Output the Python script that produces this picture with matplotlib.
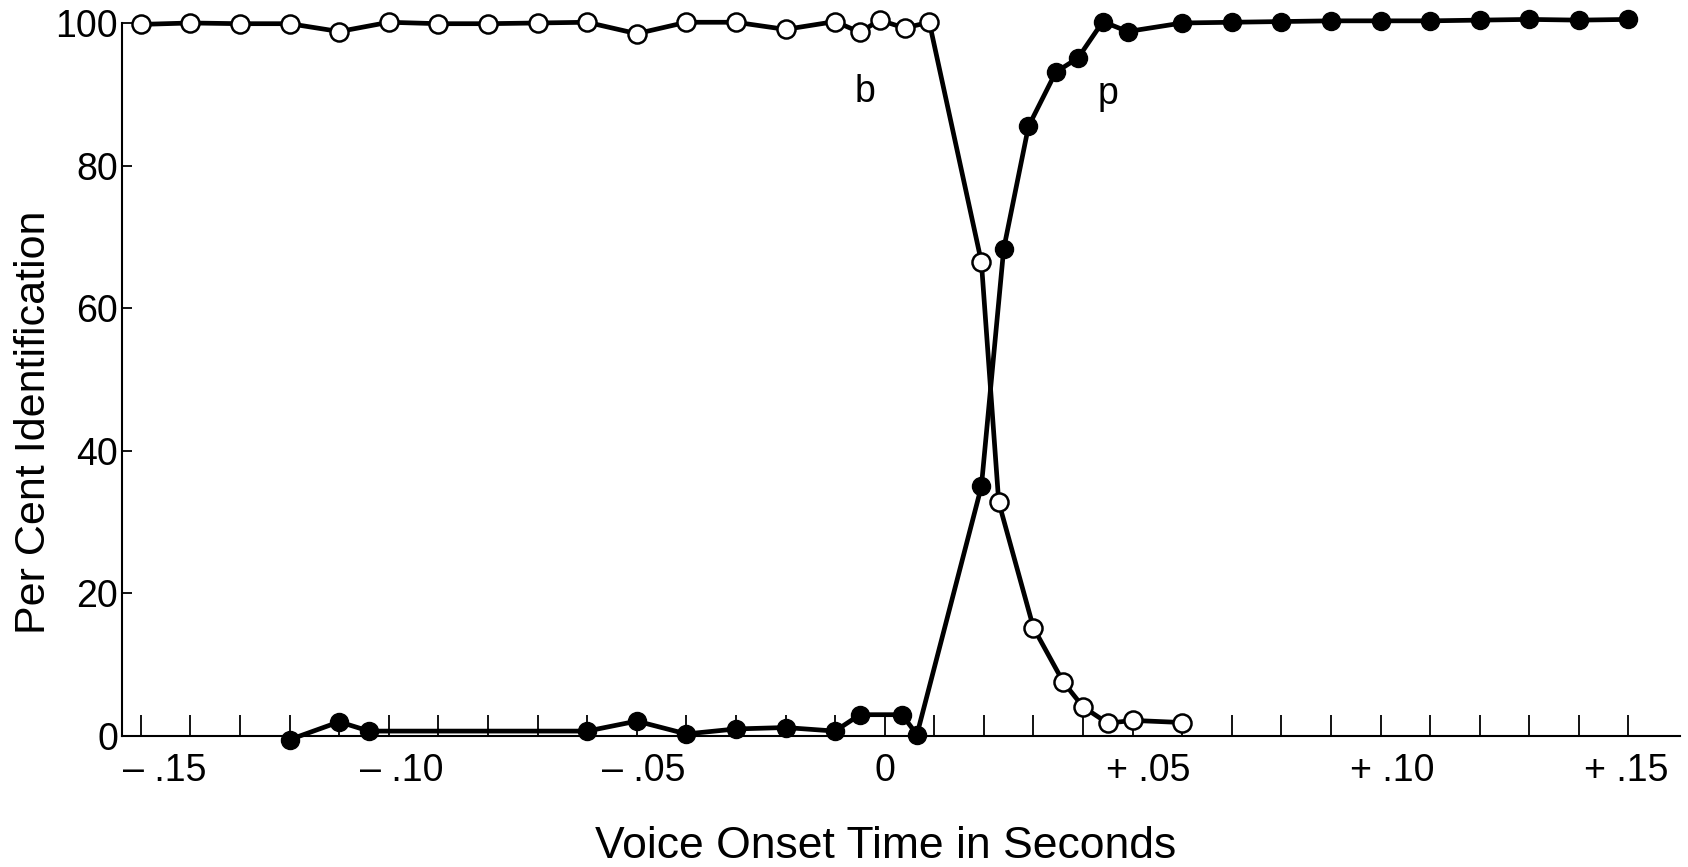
import matplotlib
matplotlib.use("Agg")
import matplotlib.pyplot as plt
from matplotlib.ticker import FixedLocator
from matplotlib.transforms import ScaledTranslation

# voice onset time (s) and per cent identification
b_vot = [-0.15, -0.14, -0.13, -0.12, -0.11, -0.10, -0.09, -0.08, -0.07, -0.06,
         -0.05, -0.04, -0.03, -0.02, -0.01, -0.005, -0.001, 0.004, 0.009,
         0.0195, 0.023, 0.030, 0.036, 0.040, 0.045, 0.050, 0.060]
b_pct = [99.8, 100, 99.9, 99.9, 98.8, 100.1, 99.9, 99.9, 100, 100.1,
         98.5, 100.1, 100.1, 99.1, 100.2, 98.7, 100.4, 99.3, 100.1,
         66.5, 32.8, 15.2, 7.6, 4.1, 1.8, 2.2, 1.9]

p_vot = [-0.12, -0.11, -0.104, -0.06, -0.05, -0.04, -0.03, -0.02, -0.01,
         -0.005, 0.0035, 0.0065, 0.0195, 0.024, 0.029, 0.0345, 0.039, 0.044,
         0.049, 0.06, 0.07, 0.08, 0.09, 0.10, 0.11, 0.12, 0.13, 0.14, 0.15]
p_pct = [-0.5, 2.0, 0.7, 0.7, 2.1, 0.3, 1.0, 1.2, 0.7,
         3.0, 3.0, 0.2, 35.0, 68.3, 85.5, 93.1, 95.1, 100.2,
         98.8, 100.0, 100.1, 100.2, 100.3, 100.3, 100.3, 100.4, 100.5, 100.4, 100.5]

x_major = [-0.15, -0.10, -0.05, 0, 0.05, 0.10, 0.15]
x_labels = ["\u2013 .15", "\u2013 .10", "\u2013 .05", "0", "+ .05", "+ .10", "+ .15"]
x_minor = [i / 100 for i in range(-15, 16)]
y_ticks = [0, 20, 40, 60, 80, 100]

# the hand-set labels sit a little right of their ticks (pixels)
label_shift = [24, 13, 7, 0, 16, 12, -2]

plt.rcParams["font.family"] = ["Liberation Sans", "DejaVu Sans"]

fig = plt.figure(figsize=(16.88, 8.67), dpi=100)
ax = fig.add_axes([0.0723, 0.151, 0.9227, 0.8225])

ax.plot(p_vot, p_pct, color="black", lw=3.4, marker="o", ms=13,
        mfc="black", mec="black", clip_on=False, zorder=3)
ax.plot(b_vot, b_pct, color="black", lw=3.4, marker="o", ms=13,
        mfc="white", mec="black", mew=1.8, clip_on=False, zorder=4)

ax.text(-0.004, 90.3, "b", fontsize=27, ha="center", va="center")
ax.text(0.045, 90, "p", fontsize=27, ha="center", va="center")

ax.set_xlim(-0.1538, 0.1603)
ax.set_ylim(0, 100)

ax.spines["top"].set_visible(False)
ax.spines["right"].set_visible(False)
ax.spines["left"].set_linewidth(1.5)
ax.spines["bottom"].set_linewidth(1.5)

ax.xaxis.set_major_locator(FixedLocator(x_major))
ax.xaxis.set_minor_locator(FixedLocator(x_minor))
ax.set_xticklabels(x_labels)
ax.set_yticks(y_ticks)
ax.set_yticklabels([str(v) for v in y_ticks])

ax.tick_params(axis="x", which="both", direction="in", length=15, width=1.3,
               pad=12, labelsize=27)
ax.tick_params(axis="y", direction="in", length=7, width=1.3, pad=3,
               labelsize=27)

for lab, dx in zip(ax.get_xticklabels(), label_shift):
    lab.set_transform(lab.get_transform() +
                      ScaledTranslation(dx / 100, 0, fig.dpi_scale_trans))

ax.set_xlabel("Voice Onset Time in Seconds", fontsize=32)
ax.xaxis.set_label_coords(0.49, -0.126)
ax.set_ylabel("Per Cent Identification", fontsize=31)
ax.yaxis.set_label_coords(-0.044, 0.44)

fig.savefig("out.png", dpi=100)
